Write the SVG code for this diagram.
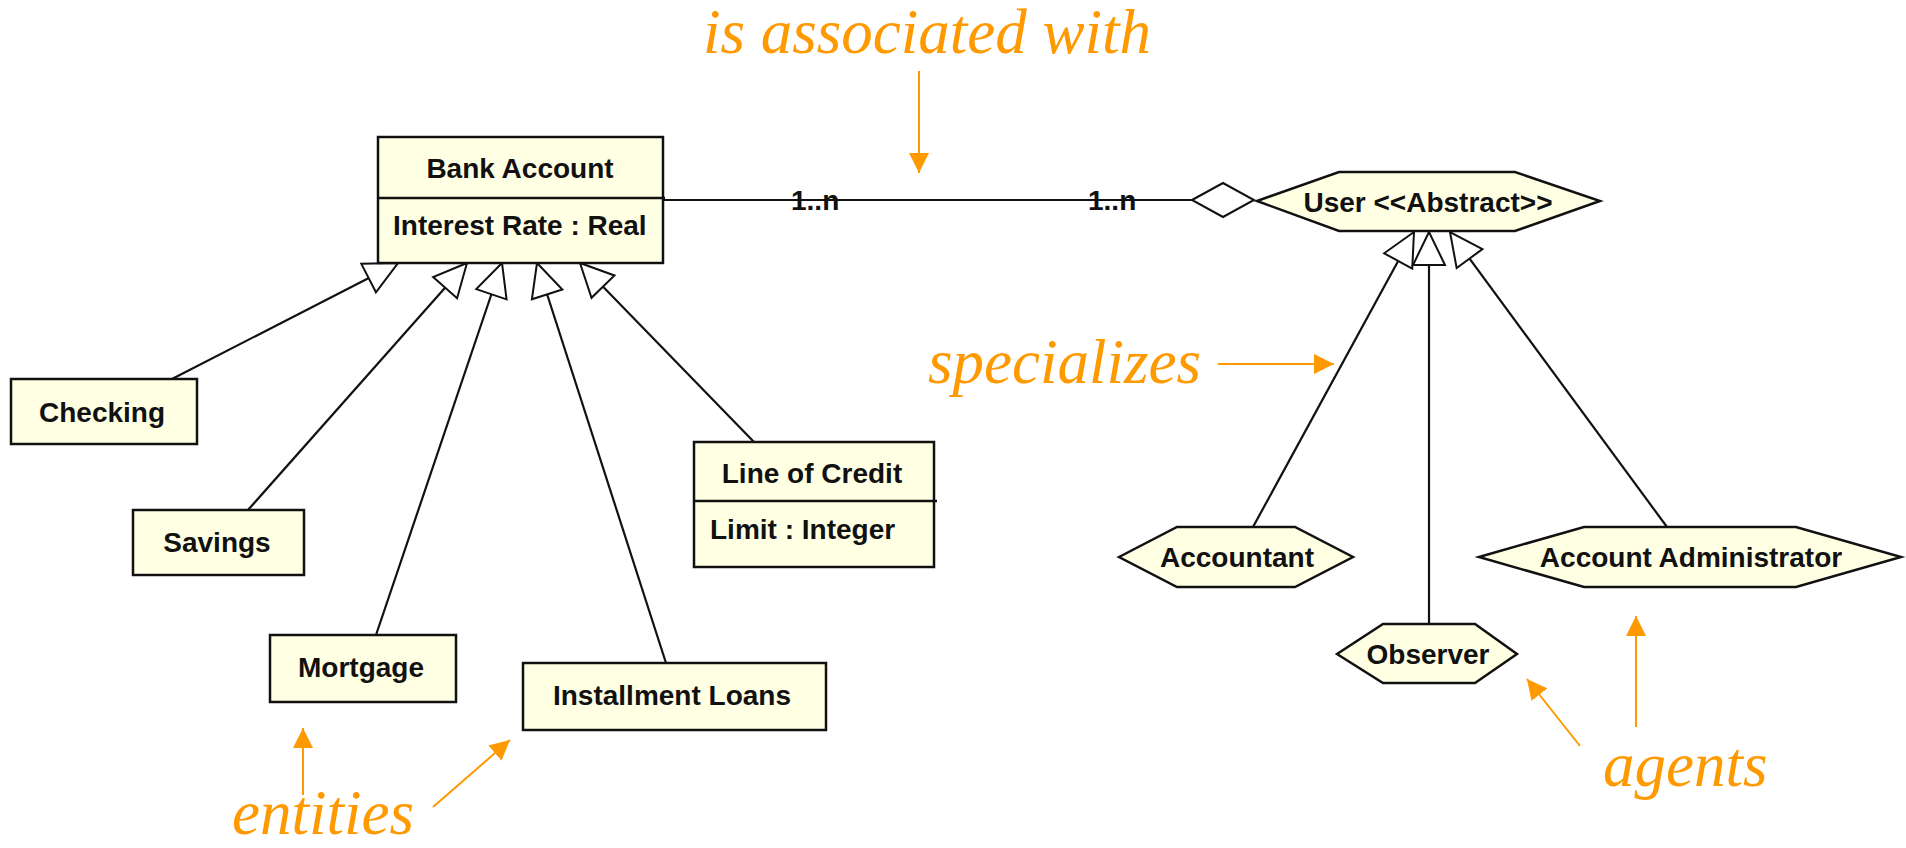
<svg xmlns="http://www.w3.org/2000/svg" width="1906" height="848" viewBox="0 0 1906 848">
<style>
.box{fill:#FFFFE3;stroke:#111;stroke-width:2.5}
.div{stroke:#111;stroke-width:2.5}
.lbl{font-family:"Liberation Sans",Arial,sans-serif;font-weight:bold;font-size:28px;fill:#111}
.mid{text-anchor:middle}
.conn{stroke:#111;stroke-width:2.2;fill:none}
.gen{marker-end:url(#tri)}
.note{font-family:"Liberation Serif","Times New Roman",serif;font-style:italic;font-size:63px;fill:#FF9900}
.oarr{stroke:#FF9900;stroke-width:2;fill:none;marker-end:url(#oh)}
</style>
<defs>
<marker id="tri" viewBox="-35 -18 37 36" refX="0" refY="0" markerWidth="37" markerHeight="36" markerUnits="userSpaceOnUse" orient="auto">
<path d="M0,0 L-33,-16 L-33,16 Z" fill="#fff" stroke="#111" stroke-width="2"/>
</marker>
<marker id="oh" viewBox="0 0 20 20" refX="20" refY="10" markerWidth="20" markerHeight="20" markerUnits="userSpaceOnUse" orient="auto">
<path d="M0,0 L20,10 L0,20 Z" fill="#FF9900"/>
</marker>
</defs>
<rect width="1906" height="848" fill="#fff"/>

<g id="connectors">
<line class="conn gen" x1="172" y1="379" x2="398" y2="263"/>
<line class="conn gen" x1="248" y1="510" x2="467" y2="263"/>
<line class="conn gen" x1="376" y1="635" x2="502" y2="263"/>
<line class="conn gen" x1="666" y1="663" x2="537" y2="263"/>
<line class="conn gen" x1="754" y1="442" x2="580" y2="263"/>
<line class="conn gen" x1="1253" y1="527" x2="1414" y2="232"/>
<line class="conn gen" x1="1429" y1="624" x2="1429" y2="232"/>
<line class="conn gen" x1="1667" y1="527" x2="1450" y2="232"/>
<g id="association">
<line class="conn" x1="663" y1="200" x2="1192" y2="200"/>
<polygon points="1192,200 1223,183 1254,200 1223,217" fill="#fff" stroke="#111" stroke-width="2"/>
<text class="lbl" x="791" y="210">1..n</text>
<text class="lbl" x="1088" y="210">1..n</text>
</g>
</g>

<g id="bank-account">
<rect class="box" x="378" y="137" width="285" height="126"/>
<line class="div" x1="378" y1="198" x2="665" y2="198"/>
<text class="lbl mid" x="520" y="178">Bank Account</text>
<text class="lbl" x="393" y="235">Interest Rate : Real</text>
</g>
<g id="checking">
<rect class="box" x="11" y="379" width="186" height="65"/>
<text class="lbl mid" x="102" y="422">Checking</text>
</g>
<g id="savings">
<rect class="box" x="133" y="510" width="171" height="65"/>
<text class="lbl mid" x="217" y="552">Savings</text>
</g>
<g id="mortgage">
<rect class="box" x="270" y="635" width="186" height="67"/>
<text class="lbl mid" x="361" y="677">Mortgage</text>
</g>
<g id="installment-loans">
<rect class="box" x="523" y="663" width="303" height="67"/>
<text class="lbl mid" x="672" y="705">Installment Loans</text>
</g>
<g id="line-of-credit">
<rect class="box" x="694" y="442" width="240" height="125"/>
<line class="div" x1="694" y1="501" x2="937" y2="501"/>
<text class="lbl mid" x="812" y="483">Line of Credit</text>
<text class="lbl" x="710" y="539">Limit : Integer</text>
</g>

<g id="user">
<polygon class="box" points="1257,201 1339,172 1515,172 1600,201 1515,231 1339,231"/>
<text class="lbl mid" x="1428" y="212">User &lt;&lt;Abstract&gt;&gt;</text>
</g>
<g id="accountant">
<polygon class="box" points="1119,557 1177,527 1295,527 1353,557 1295,587 1177,587"/>
<text class="lbl mid" x="1237" y="567">Accountant</text>
</g>
<g id="observer">
<polygon class="box" points="1337,654 1383,624 1475,624 1517,654 1475,683 1383,683"/>
<text class="lbl mid" x="1428" y="664">Observer</text>
</g>
<g id="account-administrator">
<polygon class="box" points="1479,557 1584,527 1796,527 1901,557 1796,587 1584,587"/>
<text class="lbl mid" x="1691" y="567">Account Administrator</text>
</g>

<g id="annotations">
<text class="note" x="703" y="53">is associated with</text>
<line class="oarr" x1="919" y1="71" x2="919" y2="173"/>
<text class="note" x="928" y="383">specializes</text>
<line class="oarr" x1="1218" y1="364" x2="1334" y2="364"/>
<text class="note" x="232" y="834">entities</text>
<line class="oarr" x1="303" y1="795" x2="303" y2="728"/>
<line class="oarr" x1="433" y1="807" x2="510" y2="740"/>
<text class="note" x="1603" y="786">agents</text>
<line class="oarr" x1="1636" y1="727" x2="1636" y2="616"/>
<line class="oarr" x1="1580" y1="746" x2="1527" y2="679"/>
</g>
</svg>
